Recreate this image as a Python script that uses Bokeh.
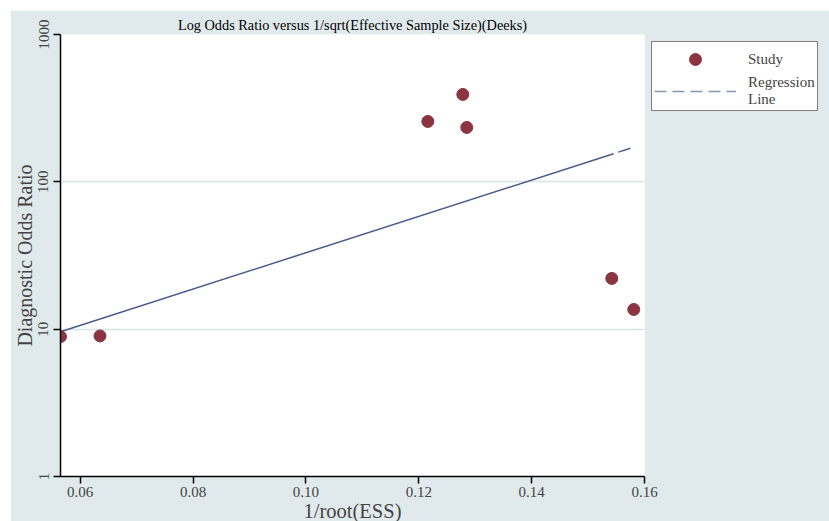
from bokeh.plotting import figure
from bokeh.models import (Range1d, FixedTicker, Legend, LegendItem)
from bokeh.embed import file_html
from bokeh.resources import INLINE

# ---- data ----
study_x = [0.0565, 0.0635, 0.1216, 0.1278, 0.1285, 0.1542, 0.1581]
study_dor = [8.9, 9.0, 257, 392, 234, 22.1, 13.6]
reg_x = [0.0565, 0.1575]
reg_dor = [9.6, 169]
x_ticks = [0.06, 0.08, 0.10, 0.12, 0.14, 0.16]
x_tick_labels = ["0.06", "0.08", "0.10", "0.12", "0.14", "0.16"]
y_ticks = [1, 10, 100, 1000]
y_tick_labels = ["1", "10", "100", "1000"]

BG = "#e0eaec"
SERIF = "Liberation Serif"

p = figure(
    width=819, height=511, margin=(10, 0, 0, 10),
    frame_width=584, frame_height=442,
    min_border_left=50, min_border_top=24, min_border_bottom=45, min_border_right=185,
    x_range=Range1d(0.0565, 0.16), y_range=Range1d(1, 1000),
    y_axis_type="log",
    output_backend="svg", toolbar_location=None,
    title="Log Odds Ratio versus 1/sqrt(Effective Sample Size)(Deeks)",
)
p.border_fill_color = BG
p.background_fill_color = "white"
p.outline_line_color = None

p.title.align = "center"
p.title.text_font = SERIF
p.title.text_font_size = "14.3px"
p.title.text_font_style = "normal"
p.title.text_color = "black"
p.title.standoff = 3

# grid
p.xgrid.visible = False
p.ygrid.ticker = FixedTicker(ticks=y_ticks)
p.ygrid.grid_line_color = "#d6e4e8"
p.ygrid.grid_line_width = 1.5

# x axis
xa = p.xaxis[0]
xa.ticker = FixedTicker(ticks=x_ticks)
xa.major_label_overrides = dict(zip(x_ticks, x_tick_labels))
xa.axis_label = "1/root(ESS)"
xa.axis_label_text_font = SERIF
xa.axis_label_text_font_size = "20.5px"
xa.axis_label_text_font_style = "normal"
xa.axis_label_standoff = 0
xa.major_label_text_font = SERIF
xa.major_label_text_font_size = "15px"
xa.major_label_standoff = 3
xa.major_tick_out = 7
xa.major_tick_in = 0
xa.minor_tick_out = 0
xa.minor_tick_in = 0
xa.axis_line_width = 1.5
xa.major_tick_line_width = 1.5

# y axis
ya = p.yaxis[0]
ya.ticker = FixedTicker(ticks=y_ticks)
ya.major_label_overrides = dict(zip(y_ticks, y_tick_labels))
ya.axis_label = "Diagnostic Odds Ratio"
ya.axis_label_text_font = SERIF
ya.axis_label_text_font_size = "20px"
ya.axis_label_text_font_style = "normal"
ya.axis_label_standoff = 0
ya.major_label_text_font = SERIF
ya.major_label_text_font_size = "15px"
ya.major_label_orientation = "parallel"
ya.major_label_standoff = 5
ya.major_tick_out = 7
ya.major_tick_in = 0
ya.minor_tick_out = 0
ya.minor_tick_in = 0
ya.axis_line_width = 1.5
ya.major_tick_line_width = 1.5

# regression line
p.line(reg_x, reg_dor, line_color="#4a5a8c", line_width=1.5, line_dash="581 5")
legend_line = p.line([float("nan")], [float("nan")], line_color="#8596b4",
                     line_width=1.5, line_dash="12 6")

# studies
study_r = p.scatter(study_x, study_dor, size=12, fill_color="#8b3540",
                    line_color="#8b3540")

legend = Legend(
    items=[LegendItem(label="Study", renderers=[study_r]),
           LegendItem(label="Regression\nLine", renderers=[legend_line])],
    location="top_left",
    glyph_width=82, glyph_height=30, label_standoff=12,
    padding=2, spacing=0, margin=7,
    border_line_color="black", border_line_width=1.5,
    background_fill_color="white", background_fill_alpha=1.0,
    label_text_font=SERIF, label_text_font_size="15px",
    label_height=16,
)
p.add_layout(legend, "right")

open("out.html", "w").write(file_html(p, INLINE))
